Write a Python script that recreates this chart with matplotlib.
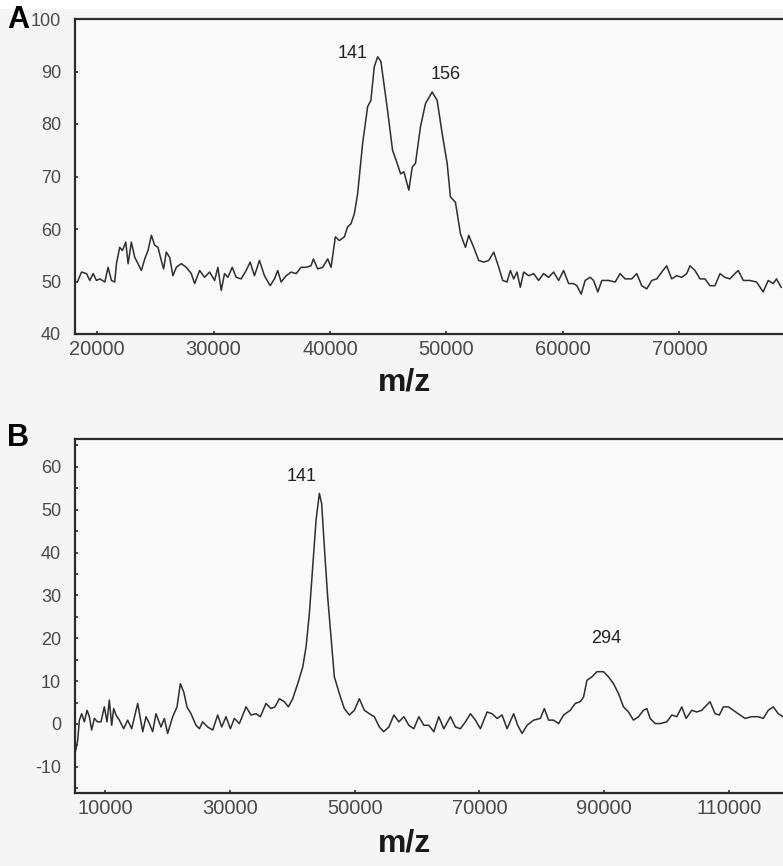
import numpy as np
import matplotlib
matplotlib.use('Agg')
import matplotlib.pyplot as plt

plt.rcParams['font.family'] = ['Liberation Sans', 'DejaVu Sans']
plt.rcParams['axes.unicode_minus'] = False

## panel A spectrum (m/z, intensity)
mzA = [18300, 18660, 19090, 19370, 19660, 19940, 20230, 20660, 20940, 21230,
       21510, 21660, 21940, 22170, 22460, 22660, 22940, 23230, 23510, 23800,
       24090, 24370, 24660, 24940, 25230, 25510, 25710, 25940, 26230, 26510,
       26800, 27230, 27660, 28090, 28370, 28800, 29230, 29660, 30090, 30370,
       30660, 30940, 31230, 31600, 31940, 32370, 32800, 33140, 33510, 33940,
       34370, 34860, 35230, 35510, 35800, 36230, 36660, 37090, 37510, 37940,
       38370, 38570, 38940, 39370, 39800, 40090, 40460, 40800, 41230, 41510,
       41800, 42090, 42370, 42800, 43230, 43510, 43800, 44090, 44370, 44660,
       44940, 45370, 45770, 46060, 46340, 46770, 47060, 47340, 47770, 48200,
       48770, 49200, 49630, 50060, 50340, 50770, 51200, 51630, 51910, 52340,
       52770, 53200, 53630, 54060, 54490, 54830, 55200, 55490, 55770, 56060,
       56340, 56630, 57060, 57490, 57910, 58340, 58770, 59200, 59630, 60060,
       60490, 60910, 61200, 61570, 61910, 62340, 62630, 63000, 63340, 63910,
       64490, 64910, 65340, 65910, 66340, 66770, 67200, 67630, 68060, 68490,
       68910, 69340, 69770, 70200, 70630, 70910, 71340, 71770, 72200, 72630,
       73060, 73490, 73910, 74340, 74770, 75060, 75490, 76060, 76630, 77200,
       77630, 78060, 78340, 78740]
intA = [49.9, 51.8, 51.5, 50.2, 51.5, 50.2, 50.5, 49.9, 52.7, 50.2,
        49.9, 53.4, 56.5, 55.9, 57.5, 53.4, 57.5, 54.6, 53.4, 52.1,
        54.3, 55.9, 58.8, 56.9, 56.5, 54.0, 52.4, 55.6, 54.6, 51.1,
        52.7, 53.4, 52.7, 51.5, 49.6, 52.1, 50.8, 51.8, 50.2, 52.7,
        48.3, 51.5, 50.8, 52.7, 50.8, 50.5, 52.1, 53.7, 51.1, 54.0,
        51.1, 49.2, 50.5, 52.1, 49.9, 51.1, 51.8, 51.5, 52.7, 52.7,
        53.0, 54.3, 52.4, 52.7, 54.3, 52.7, 58.5, 57.8, 58.5, 60.4,
        61.0, 62.9, 66.7, 76.3, 83.3, 84.5, 90.9, 92.8, 91.9, 87.1,
        82.6, 75.0, 72.5, 70.5, 70.9, 67.4, 71.8, 72.5, 79.5, 83.9,
        86.1, 84.5, 78.2, 72.5, 66.1, 65.1, 59.1, 56.5, 58.8, 56.5,
        54.0, 53.7, 54.0, 55.6, 52.7, 50.2, 49.9, 52.1, 50.5, 51.8,
        48.9, 51.8, 51.1, 51.5, 50.2, 51.5, 50.8, 51.8, 50.2, 52.1,
        49.6, 49.6, 49.2, 47.6, 50.2, 50.8, 50.2, 48.0, 50.2, 50.2,
        49.9, 51.5, 50.5, 50.5, 51.5, 49.2, 48.6, 50.2, 50.5, 51.8,
        53.0, 50.5, 51.1, 50.8, 51.5, 53.0, 52.1, 50.5, 50.5, 49.2,
        49.2, 51.5, 50.8, 50.5, 51.5, 52.1, 50.2, 50.2, 49.9, 48.0,
        50.2, 49.6, 50.5, 48.9]

## panel B spectrum
mzB = [5190, 5620, 5890, 6260, 6690, 7120, 7490, 7860, 8290, 8820,
       9360, 9890, 10320, 10690, 11070, 11390, 11760, 12300, 12990, 13630,
       14270, 15240, 16040, 16570, 17110, 17640, 18170, 18970, 19510, 20040,
       20840, 21540, 22070, 22610, 23140, 23780, 24580, 25120, 25650, 26450,
       27260, 28060, 28700, 29390, 30090, 30730, 31530, 32600, 33400, 34200,
       34890, 35800, 36600, 37240, 37940, 38740, 39380, 40080, 40880, 41690,
       42220, 42750, 43290, 43820, 44350, 44720, 45150, 45680, 46220, 46750,
       47550, 48350, 49160, 49960, 50760, 51560, 52360, 53160, 53960, 54660,
       55490, 56290, 57090, 57890, 58690, 59490, 60290, 61090, 61890, 62690,
       63490, 64290, 65360, 66160, 66960, 67760, 68560, 69360, 70160, 71230,
       72030, 72830, 73630, 74430, 75490, 76130, 76830, 77630, 78690, 79760,
       80400, 81090, 81890, 82690, 83490, 84560, 85360, 86160, 86690, 87230,
       88030, 88830, 89890, 90690, 91490, 92290, 93090, 93890, 94690, 95490,
       96290, 96830, 97360, 98160, 98960, 100030, 100830, 101630, 102430, 103120,
       104030, 104830, 105630, 106160, 106960, 107760, 108450, 109090, 109890, 110690,
       111490, 112560, 113630, 114690, 115490, 116290, 117090, 117890, 118640]
intB = [-6.9, -3.8, 0.9, 2.4, 0.5, 3.2, 1.7, -1.4, 1.3, 0.5,
        0.5, 4.0, 0.5, 5.6, -0.3, 3.6, 2.1, 0.9, -1.1, 0.9,
        -1.1, 4.8, -1.8, 1.7, 0.1, -1.8, 2.4, -0.7, 1.3, -2.2,
        1.7, 4.0, 9.4, 7.5, 4.0, 2.4, -0.3, -1.1, 0.5, -0.7,
        -1.4, 2.1, -0.7, 1.7, -1.1, 1.3, 0.1, 4.0, 2.1, 2.4,
        1.7, 4.8, 3.6, 4.0, 5.9, 5.2, 4.0, 5.9, 9.4, 13.3,
        18.0, 25.8, 36.7, 47.6, 53.8, 51.4, 41.3, 29.7, 20.3, 11.0,
        7.1, 3.6, 2.1, 3.2, 5.9, 3.2, 2.4, 1.7, -0.7, -1.8,
        -0.7, 2.1, 0.5, 1.7, -0.3, -1.1, 1.7, -0.3, -0.3, -1.8,
        1.7, -1.1, 1.7, -0.7, -1.1, 0.5, 2.4, 0.9, -1.1, 2.8,
        2.4, 1.3, 2.1, -1.1, 2.4, -0.3, -2.2, -0.3, 0.9, 1.3,
        3.6, 0.9, 0.9, 0.1, 2.1, 3.2, 4.8, 5.2, 6.3, 10.2,
        11.0, 12.2, 12.2, 11.0, 9.4, 7.1, 4.0, 2.8, 0.9, 1.7,
        3.2, 3.6, 1.3, 0.1, 0.1, 0.5, 2.1, 1.7, 4.0, 1.3,
        3.2, 2.8, 3.2, 4.0, 5.2, 2.4, 2.1, 4.0, 4.0, 3.2,
        2.4, 1.3, 1.7, 1.7, 1.3, 3.2, 4.0, 2.4, 1.7]

## peak labels (text centre in data coords)
peaksA = [(41970, 93.5, '141'), (49960, 89.4, '156')]
peaksB = [(41570, 57.8, '141'), (90290, 20.0, '294')]

xticksA = [20000, 30000, 40000, 50000, 60000, 70000]
yticksA = [40, 50, 60, 70, 80, 90, 100]
xticksB = [10000, 30000, 50000, 70000, 90000, 110000]
yticksB = [-10, 0, 10, 20, 30, 40, 50, 60]

W, H = 783, 866
fig = plt.figure(figsize=(W / 100, H / 100), dpi=100, facecolor='#f5f5f5')
# whiter strip along the top, like the scan
fig.patches.append(plt.Rectangle((0, 1 - 8 / H), 1, 8 / H, transform=fig.transFigure,
                                 color='#ffffff', zorder=0))

def style(ax):
    ax.set_facecolor('#f9f9f9')
    for s in ['top', 'left', 'bottom']:
        ax.spines[s].set_color('#2b2b2b')
        ax.spines[s].set_linewidth(1.6)
    ax.spines['right'].set_visible(False)
    ax.tick_params(axis='both', which='both', direction='in', length=2.5,
                   width=1.2, color='#2b2b2b', labelcolor='#4a4a4a')
    ax.tick_params(axis='y', pad=10, labelsize=13)
    ax.tick_params(axis='x', pad=4, labelsize=14.5)

# panel A
axA = fig.add_axes([75 / W, (H - 334) / H, (W - 75) / W, 315 / H])
axA.plot(mzA, intA, color='#2e2e2e', lw=1.1)
axA.set_xlim(18100, 78900)
axA.set_ylim(40, 100)
axA.set_xticks(xticksA)
axA.set_yticks(yticksA)
style(axA)
for x, y, t in peaksA:
    axA.text(x, y, t, ha='center', va='center', fontsize=13, color='#222222')
axA.set_xlabel('m/z', fontsize=23, fontweight='bold', color='#1a1a1a')
axA.xaxis.set_label_coords((404 - 75) / (W - 75), -0.105)

# panel B
axB = fig.add_axes([75 / W, (H - 793) / H, (W - 75) / W, 354 / H])
axB.plot(mzB, intB, color='#2e2e2e', lw=1.1)
axB.set_xlim(5190, 118650)
axB.set_ylim(-16.1, 66.5)
axB.set_xticks(xticksB)
axB.set_yticks(yticksB)
axB.set_yticks(np.arange(-15, 66, 5), minor=True)
style(axB)
for x, y, t in peaksB:
    axB.text(x, y, t, ha='center', va='center', fontsize=13, color='#222222')
axB.set_xlabel('m/z', fontsize=23, fontweight='bold', color='#1a1a1a')
axB.xaxis.set_label_coords((404 - 75) / (W - 75), -0.1)

# panel letters
fig.text(18 / W, 1 - 20 / H, 'A', fontsize=22, fontweight='bold', ha='center', va='center')
fig.text(18 / W, 1 - 438 / H, 'B', fontsize=22, fontweight='bold', ha='center', va='center')

fig.savefig('out.png', dpi=100, facecolor=fig.get_facecolor())
